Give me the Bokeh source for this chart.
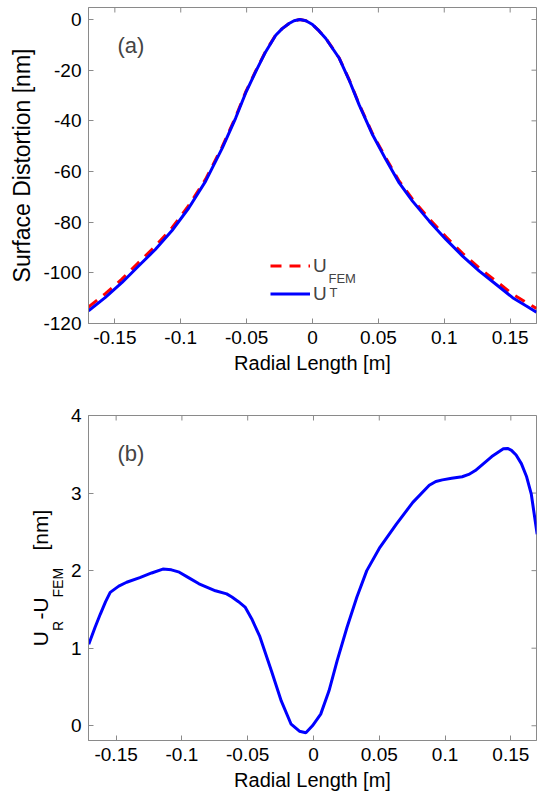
import math
from bokeh.plotting import figure
from bokeh.models import (Range1d, FixedTicker, CustomJSTickFormatter, LinearAxis,
                          Legend, LegendItem, Label)
from bokeh.layouts import column
from bokeh.embed import file_html
from bokeh.resources import INLINE

# ---------------- data ----------------
# panel (a): U^T (solid blue)
x_ut = [-0.170, -0.1574, -0.1447, -0.132, -0.1193, -0.1066, -0.0939, -0.0812, -0.0685,
        -0.0584, -0.0508, -0.0431, -0.0355, -0.0279, -0.023, -0.0178, -0.014, -0.0096,
        -0.005, 0.0, 0.005, 0.0101, 0.0203, 0.0278, 0.0354, 0.0456, 0.0557, 0.0658,
        0.0759, 0.0886, 0.1013, 0.1139, 0.1266, 0.1392, 0.1519, 0.1620, 0.1700]
u_t = [-115.0, -109.8, -103.9, -97.3, -90.8, -83.3, -74.4, -63.9, -50.8,
       -39.0, -29.1, -20.6, -12.7, -6.2, -3.6, -1.6, -0.5, 0.0,
       -0.5, -2.0, -4.5, -7.5, -15.3, -23.9, -33.7, -45.5, -55.3, -64.5,
       -71.7, -79.6, -86.8, -93.4, -99.3, -104.5, -109.8, -113.0, -115.5]
# panel (a): U_FEM (dashed red)
x_fem = list(x_ut)
u_fem = [-113.5, -108.3, -102.5, -95.9, -89.5, -82.2, -73.4, -63.1, -50.2,
         -38.5, -28.7, -20.3, -12.5, -6.1, -3.6, -1.6, -0.5, 0.0,
         -0.5, -2.0, -4.5, -7.4, -15.2, -23.7, -33.4, -45.1, -54.7, -63.8,
         -70.9, -78.7, -85.8, -92.3, -98.1, -103.2, -108.4, -111.6, -114.1]
# panel (b): U_R - U_FEM
x_diff = [-0.1708, -0.166, -0.162, -0.158, -0.1545, -0.148, -0.142, -0.132, -0.123, -0.1145,
          -0.108, -0.102, -0.095, -0.087, -0.0745, -0.066, -0.062, -0.057, -0.052, -0.047,
          -0.041, -0.032, -0.0245, -0.017, -0.0107, -0.0058, -0.0008,
          0.0055, 0.0118, 0.018, 0.0255, 0.033, 0.0405, 0.0505, 0.063, 0.0755, 0.088,
          0.093, 0.098, 0.105, 0.113, 0.118, 0.123, 0.1355, 0.1443, 0.1475, 0.1505, 0.154,
          0.158, 0.162, 0.1655, 0.170]
u_diff = [1.05, 1.27, 1.44, 1.60, 1.72, 1.80, 1.85, 1.91, 1.97, 2.02,
          2.01, 1.98, 1.91, 1.83, 1.74, 1.70, 1.66, 1.60, 1.53, 1.38,
          1.16, 0.71, 0.32, 0.02, -0.07, -0.09, 0.0,
          0.15, 0.45, 0.84, 1.27, 1.66, 2.0, 2.3, 2.6, 2.88, 3.1,
          3.15, 3.17, 3.19, 3.21, 3.24, 3.29, 3.47, 3.57, 3.575, 3.55, 3.49,
          3.38, 3.21, 2.99, 2.47]

x_ticks = [-0.15, -0.1, -0.05, 0, 0.05, 0.1, 0.15]
y_ticks_a = [-120, -100, -80, -60, -40, -20, 0]
y_ticks_b = [0, 1, 2, 3, 4]

FONT = "Liberation Sans"
AXC = "#8a8a8a"
TICK_FS = "19px"
XLAB_FS = "20px"
YLAB_FS = "23px"
NB = "\u00a0"


def style_axis(ax, ticks, lab_fs):
    ax.ticker = FixedTicker(ticks=ticks)
    ax.formatter = CustomJSTickFormatter(code="return tick.toString();")
    ax.axis_line_color = AXC
    ax.major_tick_line_color = AXC
    ax.major_tick_in = 5
    ax.major_tick_out = 0
    ax.minor_tick_line_color = None
    ax.major_label_text_font = FONT
    ax.major_label_text_color = "black"
    ax.major_label_text_font_size = TICK_FS
    ax.major_label_standoff = 7
    ax.axis_label_standoff = 5
    ax.axis_label_text_font = FONT
    ax.axis_label_text_font_style = "normal"
    ax.axis_label_text_color = "black"
    ax.axis_label_text_font_size = lab_fs


def make_fig(width, height, xr, yr, yticks, mb_left, mb_top, mb_bottom, mb_right):
    p = figure(width=width, height=height, x_range=Range1d(*xr), y_range=Range1d(*yr),
               output_backend="svg", toolbar_location=None,
               min_border_left=mb_left, min_border_right=mb_right,
               min_border_top=mb_top, min_border_bottom=mb_bottom)
    p.grid.visible = False
    p.outline_line_color = AXC
    p.background_fill_color = "white"
    p.border_fill_color = "white"
    style_axis(p.below[0], x_ticks, XLAB_FS)
    style_axis(p.left[0], yticks, YLAB_FS)
    # mirrored inward ticks on the top and right edges (clipped to the frame)
    p.scatter(x_ticks, [yr[1]] * len(x_ticks), marker="dash", angle=math.pi / 2,
              size=10, line_color=AXC, line_width=1)
    p.scatter([xr[1]] * len(yticks), yticks, marker="dash", angle=0,
              size=10, line_color=AXC, line_width=1)
    return p


def label_axis(text, fs, standoff):
    ax = LinearAxis(ticker=FixedTicker(ticks=[]), axis_label=text,
                    axis_line_color=None, major_tick_line_color=None,
                    minor_tick_line_color=None, major_tick_out=0, major_tick_in=0,
                    major_label_standoff=0, axis_label_standoff=standoff,
                    axis_label_text_font=FONT, axis_label_text_font_size=fs,
                    axis_label_text_font_style="normal", axis_label_text_color="black")
    return ax


# ---------------- panel (a) ----------------
xr_a = (-0.17, 0.17)
p1 = make_fig(542, 400, xr_a, (-120, 4.74), y_ticks_a, 88, 7, 77, 6)
p1.below[0].axis_label = "Radial Length [m]"
p1.left[0].axis_label = "Surface Distortion [nm]"

r_fem = p1.line(x_fem, u_fem, line_color="#ff0000", line_width=3, line_dash="11 8")
r_t = p1.line(x_ut, u_t, line_color="#0000ff", line_width=3)

leg = Legend(items=[LegendItem(label="U", renderers=[r_fem]),
                    LegendItem(label="U", renderers=[r_t])],
             location=(182, 18), padding=0, margin=0, spacing=5,
             glyph_width=40, glyph_height=23, label_height=23, label_standoff=3,
             label_text_font=FONT, label_text_font_size="19px",
             border_line_color=None, background_fill_alpha=0)
p1.add_layout(leg)
p1.add_layout(Label(x=240, y=45, x_units="screen", y_units="screen", text="FEM",
                    text_font=FONT, text_font_size="13px", text_align="left",
                    text_baseline="alphabetic"))
p1.add_layout(Label(x=241, y=31, x_units="screen", y_units="screen", text="T",
                    text_font=FONT, text_font_size="13px", text_align="left",
                    text_baseline="alphabetic"))
p1.add_layout(Label(x=29, y=278, x_units="screen", y_units="screen", text="(a)",
                    text_font=FONT, text_font_size="22px", text_align="left",
                    text_baseline="middle"))

# ---------------- panel (b) ----------------
p2 = make_fig(542, 409, (-0.171, 0.1695), (-0.19, 4), y_ticks_b, 88, 15, 69, 0)
p2.below[0].axis_label = "Radial Length [m]"
p2.line(x_diff, u_diff, line_color="#0000ff", line_width=3)
p2.add_layout(Label(x=29, y=287, x_units="screen", y_units="screen", text="(b)",
                    text_font=FONT, text_font_size="22px", text_align="left",
                    text_baseline="middle"))

# rotated y label  U_R-U_FEM  [nm] : subscripts line (near the axis) and main line
sub_text = "R" + NB * 6 + "FEM" + NB * 11
main_text = "U" + NB * 2 + "-U" + NB * 8 + "[nm]"
p2.add_layout(label_axis(sub_text, "14px", 2), "left")
p2.add_layout(label_axis(main_text, "21px", -5), "left")

layout = column(p1, p2, spacing=0)
open("out.html", "w").write(file_html(layout, INLINE))
